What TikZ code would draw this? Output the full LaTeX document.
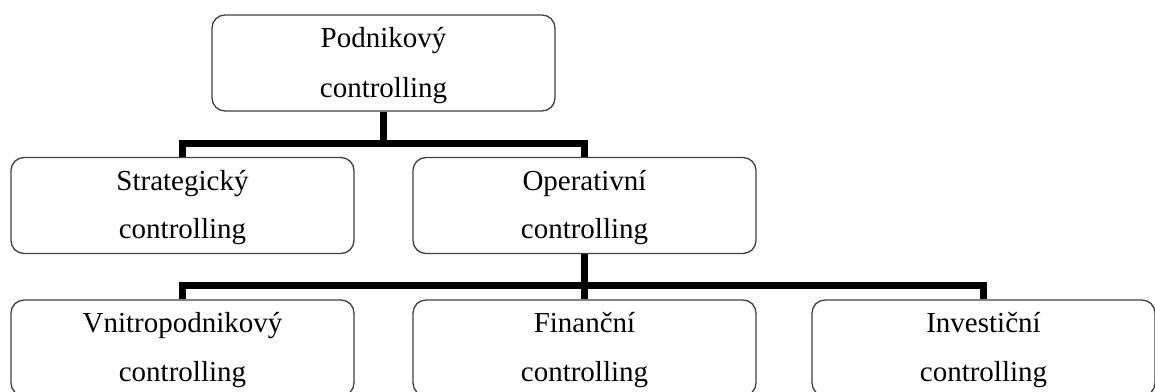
\documentclass[tikz,border=0pt]{standalone}
\usepackage{fontspec}
\setmainfont{Liberation Serif}
\begin{document}
\begin{tikzpicture}[x=1pt,y=1pt,
  box/.style={draw=black!75, line width=1.3pt, rounded corners=13pt,
    minimum width=343pt, minimum height=96pt, inner sep=0pt},
  txt/.style={font=\fontsize{29}{50}\selectfont, anchor=base, inner sep=0pt},
  link/.style={line width=7pt, line join=miter}]
\clip (0,0) rectangle (1155,-391);
% boxes
\node[box] (top)    at (383.5,-63)  {};
\node[box] (strat)  at (182.5,-205.5) {};
\node[box] (oper)   at (584.5,-205.5) {};
\node[box] (vnitro) at (182.5,-348) {};
\node[box] (fin)    at (584.5,-348) {};
\node[box] (inv)    at (983.5,-348) {};
% labels
\node[txt] at ([yshift=-33pt]top.north)    {Podnikový};
\node[txt] at ([yshift=-83pt]top.north)    {controlling};
\node[txt] at ([yshift=-34pt]strat.north)  {Strategický};
\node[txt] at ([yshift=-82pt]strat.north)  {controlling};
\node[txt] at ([yshift=-34pt]oper.north)   {Operativní};
\node[txt] at ([yshift=-82pt]oper.north)   {controlling};
\node[txt] at ([yshift=-33pt]vnitro.north) {Vnitropodnikový};
\node[txt] at ([yshift=-82pt]vnitro.north) {controlling};
\node[txt] at ([yshift=-33pt]fin.north)    {Finanční};
\node[txt] at ([yshift=-82pt]fin.north)    {controlling};
\node[txt] at ([yshift=-33pt]inv.north)    {Investiční};
\node[txt] at ([yshift=-82pt]inv.north)    {controlling};
% connectors
\coordinate (j1) at (383.5,-143);
\coordinate (j2) at (584.5,-285);
\draw[link] (top.south) -- (j1);
\draw[link] (strat.north) |- (j1) -| (oper.north);
\draw[link] (oper.south) -- (j2);
\draw[link] (vnitro.north) |- (j2) -| (inv.north);
\draw[link] (j2) -- (fin.north);
\end{tikzpicture}
\end{document}
